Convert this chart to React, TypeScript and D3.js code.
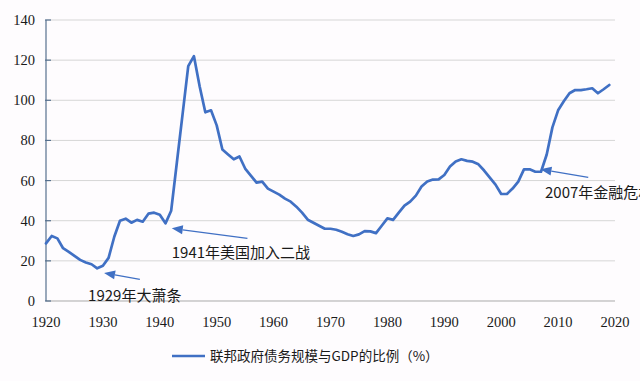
import React from "react";
import * as d3 from "d3";

const years: number[] = d3.range(1920, 2020);
const debtRatio: number[] = [
  28.7, 32.4, 31.2, 26.3, 24.5, 22.5, 20.5, 19.2, 18.3, 16.3,
  17.6, 21.5, 32, 40, 41, 39, 40.4, 39.5, 43.5, 44,
  43, 38.7, 45, 69, 93, 117, 122, 107, 94, 95,
  87.5, 75.5, 73, 70.6, 72, 66, 62.5, 59, 59.5, 56,
  54.5, 53, 51, 49.5, 47, 44, 40.5, 39, 37.5, 36,
  36, 35.5, 34.5, 33.3, 32.4, 33.2, 34.8, 34.7, 33.8, 37.5,
  41.2, 40.4, 44, 47.5, 49.5, 52.5, 57, 59.5, 60.5, 60.6,
  62.8, 67, 69.5, 70.6, 69.8, 69.4, 68.1, 65, 61.5, 58,
  53.3, 53.3, 56, 59.5, 65.6, 65.6, 64.4, 64.4, 73, 86.5,
  95, 99.5, 103.5, 105.1, 105.1, 105.5, 106, 103.5, 105.5, 107.6,
];
const xTicks: number[] = [1920, 1930, 1940, 1950, 1960, 1970, 1980, 1990, 2000, 2010, 2020];
const yTicks: number[] = [0, 20, 40, 60, 80, 100, 120, 140];
const seriesName = "联邦政府债务规模与GDP的比例（%）";

// annotations: label, text anchor (year, baseline value), arrow head and tail (year, value)
const annoLabels: string[] = ["1929年大萧条", "1941年美国加入二战", "2007年金融危机"];
const annoTextPos: [number, number][] = [[1927.4, 0], [1942.1, 21.3], [2007.7, 51.3]];
const annoHead: [number, number][] = [[1930.2, 14], [1942.1, 36.2], [2006.9, 65.6]];
const annoTail: [number, number][] = [[1936.5, 10.8], [1955.4, 31.2], [2015.3, 61.6]];

const BLUE = "#4070c4";
const serif = "'Liberation Serif', 'Times New Roman', serif";
const cjk = "'Noto Sans CJK SC', sans-serif";

export default function App() {
  const W = 640, H = 381;
  const x = d3.scaleLinear().domain([1920, 2020]).range([46, 615]);
  const y = d3.scaleLinear().domain([0, 140]).range([301, 20]);
  const line = d3.line<number>().x((_, i) => x(years[i])).y((d) => y(d));
  const path = line(debtRatio) || "";

  const arrow = (i: number) => {
    const [hx, hy] = [x(annoHead[i][0]), y(annoHead[i][1])];
    const [tx, ty] = [x(annoTail[i][0]), y(annoTail[i][1])];
    const ang = Math.atan2(hy - ty, hx - tx);
    const L = 11, Wd = 4.5;
    const bx = hx - L * Math.cos(ang), by = hy - L * Math.sin(ang);
    const px = -Math.sin(ang) * Wd, py = Math.cos(ang) * Wd;
    return (
      <g key={"a" + i}>
        <line x1={tx} y1={ty} x2={bx} y2={by} stroke={BLUE} strokeWidth={1.3} />
        <polygon points={`${hx},${hy} ${bx + px},${by + py} ${bx - px},${by - py}`} fill={BLUE} />
      </g>
    );
  };

  return (
    <svg width={W} height={H} style={{ position: "absolute", left: 0, top: 0, background: "#fefcfe" }}>
      <rect x={0} y={0} width={W} height={H} fill="#fefcfe" />
      {yTicks.filter((t) => t > 0).map((t) => (
        <line key={"g" + t} x1={x(1920)} x2={x(2020)} y1={y(t)} y2={y(t)} stroke="#d6d6d6" strokeWidth={1} />
      ))}
      <line x1={x(1920)} x2={x(2020)} y1={y(0)} y2={y(0)} stroke="#a9a9a9" strokeWidth={1} />
      <line x1={x(1920)} x2={x(1920)} y1={y(140)} y2={y(0)} stroke="#56708e" strokeWidth={1.2} />
      {yTicks.map((t) => (
        <g key={"yt" + t}>
          <line x1={x(1920) - 1} x2={x(1920) + 5} y1={y(t)} y2={y(t)} stroke="#56708e" strokeWidth={1.2} />
          <text x={35} y={y(t) + 5} textAnchor="end" fontFamily={serif} fontSize={14.5} fill="#1a1a1a">{t}</text>
        </g>
      ))}
      {xTicks.map((t) => (
        <text key={"xt" + t} x={x(t)} y={327} textAnchor="middle" fontFamily={serif} fontSize={14.5} fill="#1a1a1a">{t}</text>
      ))}
      <path d={path} fill="none" stroke={BLUE} strokeWidth={2.7} strokeLinejoin="round" strokeLinecap="round" />
      {annoLabels.map((_, i) => arrow(i))}
      {annoLabels.map((lab, i) => (
        <text key={"l" + i} x={x(annoTextPos[i][0])} y={y(annoTextPos[i][1])} fontFamily={cjk} fontSize={15} fill="#1a1a1a">{lab}</text>
      ))}
      <line x1={172} x2={205} y1={356} y2={356} stroke={BLUE} strokeWidth={2.4} />
      <text x={210} y={361} fontFamily={cjk} fontSize={13.5} fill="#1a1a1a">{seriesName}</text>
    </svg>
  );
}
